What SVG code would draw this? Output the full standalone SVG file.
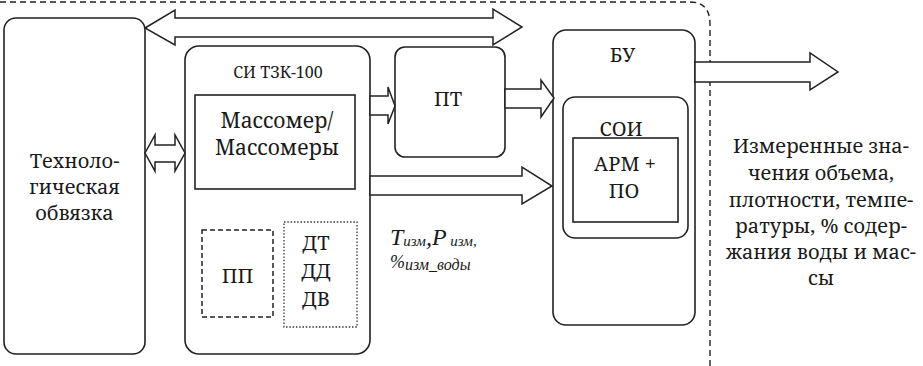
<svg xmlns="http://www.w3.org/2000/svg" width="923" height="366" viewBox="0 0 923 366">
<style>
.box{fill:#fff;stroke:#222;stroke-width:1.6}
.arr{fill:#fff;stroke:#222;stroke-width:1.5;stroke-linejoin:miter}
</style>
<rect width="923" height="366" fill="#fff"/>
<path d="M0,2 H690 Q710,2 710,24 V366" fill="none" stroke="#222" stroke-width="1.4" stroke-dasharray="6,4"/>
<g id="tech">
<rect class="box" x="4" y="18" width="141" height="336" rx="12"/>
<text font-family="Noto Serif, Liberation Serif, serif" font-size="20" fill="#1a1a1a" text-anchor="middle" x="74.5" y="168">Техноло-</text>
<text font-family="Noto Serif, Liberation Serif, serif" font-size="20" fill="#1a1a1a" text-anchor="middle" x="74.5" y="194">гическая</text>
<text font-family="Noto Serif, Liberation Serif, serif" font-size="20" fill="#1a1a1a" text-anchor="middle" x="74.5" y="220">обвязка</text>
</g>
<g id="si">
<rect class="box" x="185" y="46" width="185" height="308" rx="14"/>
<text font-family="Noto Serif, Liberation Serif, serif" font-size="16" fill="#1a1a1a" text-anchor="middle" x="278" y="78">СИ ТЗК-100</text>
</g>
<g id="massomer">
<rect class="box" x="195" y="95" width="160" height="94"/>
<text font-family="Noto Serif, Liberation Serif, serif" font-size="21" fill="#1a1a1a" text-anchor="middle" x="277" y="128">Массомер/</text>
<text font-family="Noto Serif, Liberation Serif, serif" font-size="21" fill="#1a1a1a" text-anchor="middle" x="277" y="155">Массомеры</text>
</g>
<g id="pp">
<rect x="202" y="230" width="71" height="87" fill="#fff" stroke="#222" stroke-width="1.5" stroke-dasharray="5,3"/>
<text font-family="Noto Serif, Liberation Serif, serif" font-size="20" fill="#1a1a1a" text-anchor="middle" x="237.5" y="283">ПП</text>
</g>
<g id="sensors">
<rect x="284" y="222" width="73" height="105" fill="#fff" stroke="#333" stroke-width="1.3" stroke-dasharray="1.5,1.8"/>
<text font-family="Noto Serif, Liberation Serif, serif" font-size="20" fill="#1a1a1a" text-anchor="middle" x="316" y="250">ДТ</text>
<text font-family="Noto Serif, Liberation Serif, serif" font-size="20" fill="#1a1a1a" text-anchor="middle" x="316" y="278">ДД</text>
<text font-family="Noto Serif, Liberation Serif, serif" font-size="20" fill="#1a1a1a" text-anchor="middle" x="316" y="306">ДВ</text>
</g>
<g id="pt">
<rect class="box" x="395" y="47" width="110" height="110" rx="10"/>
<text font-family="Noto Serif, Liberation Serif, serif" font-size="20" fill="#1a1a1a" text-anchor="middle" x="448" y="106">ПТ</text>
</g>
<g id="bu">
<rect class="box" x="553" y="30" width="142" height="295" rx="13"/>
<text font-family="Noto Serif, Liberation Serif, serif" font-size="20" fill="#1a1a1a" text-anchor="middle" x="622.5" y="62">БУ</text>
</g>
<g id="soi">
<rect class="box" x="563" y="97" width="125" height="141" rx="12"/>
<text font-family="Noto Serif, Liberation Serif, serif" font-size="20" fill="#1a1a1a" text-anchor="middle" x="621" y="136">СОИ</text>
</g>
<g id="arm">
<rect class="box" x="573" y="138" width="105" height="84"/>
<text font-family="Noto Serif, Liberation Serif, serif" font-size="20" fill="#1a1a1a" text-anchor="middle" x="625" y="171">АРМ +</text>
<text font-family="Noto Serif, Liberation Serif, serif" font-size="20" fill="#1a1a1a" text-anchor="middle" x="624" y="198">ПО</text>
</g>
<g id="connectors">
<polygon class="arr" points="145,28 175,10 175,18 493,18 493,9 522,27 493,45 493,37 175,37 175,45"/>
<polygon class="arr" points="145,153 155,135 155,145 175,145 175,135 185,153 175,171 175,162 155,162 155,171"/>
<polygon class="arr" points="370,96 388,96 388,87 395,106 388,124 388,115 370,115"/>
<polygon class="arr" points="505,89 541,89 541,80 554,98 541,117 541,108 505,108"/>
<polygon class="arr" points="370,176 522,176 522,167 552,186 522,204 522,195 370,195"/>
<polygon class="arr" points="695,62 810,62 810,53 838,72 810,90 810,82 695,82"/>
</g>
<g id="labels">
<text font-family="Liberation Serif" font-style="italic" fill="#1a1a1a" x="390" y="245"><tspan font-size="24">T</tspan><tspan font-size="15" dy="1">изм</tspan><tspan font-size="24" dy="-1">,P</tspan><tspan font-size="15" dy="1"> изм,</tspan></text>
<text font-family="Liberation Serif" font-style="italic" fill="#1a1a1a" x="390" y="268"><tspan font-size="18">%</tspan><tspan font-size="16" dy="2">изм_воды</tspan></text>
<text font-family="Noto Serif, Liberation Serif, serif" font-size="20" fill="#1a1a1a" text-anchor="middle" x="821" y="153">Измеренные зна-</text>
<text font-family="Noto Serif, Liberation Serif, serif" font-size="20" fill="#1a1a1a" text-anchor="middle" x="821" y="180">чения объема,</text>
<text font-family="Noto Serif, Liberation Serif, serif" font-size="20" fill="#1a1a1a" text-anchor="middle" x="821" y="207">плотности, темпе-</text>
<text font-family="Noto Serif, Liberation Serif, serif" font-size="20" fill="#1a1a1a" text-anchor="middle" x="821" y="233">ратуры, % содер-</text>
<text font-family="Noto Serif, Liberation Serif, serif" font-size="20" fill="#1a1a1a" text-anchor="middle" x="821" y="259">жания воды  и мас-</text>
<text font-family="Noto Serif, Liberation Serif, serif" font-size="20" fill="#1a1a1a" text-anchor="middle" x="821" y="285">сы</text>
</g>
</svg>
